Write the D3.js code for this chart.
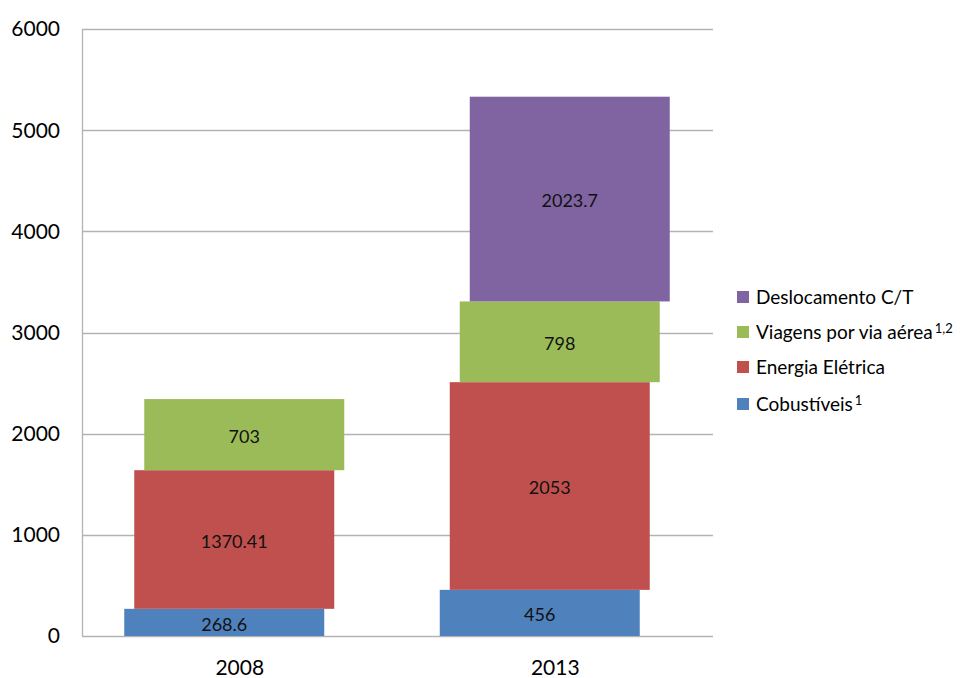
<!DOCTYPE html>
<html><head><meta charset="utf-8">
<script src="https://cdn.jsdelivr.net/npm/d3@7"></script>
<style>body{margin:0;background:#fff}svg{display:block;font-family:Lato,"Open Sans",sans-serif}</style>
</head><body><svg id="c" width="968" height="678"></svg>
<script>
const categories = ["2008", "2013"];
const seriesNames = ["Cobustíveis", "Energia Elétrica", "Viagens por via aérea", "Deslocamento C/T"];
const seriesSup = ["1", "", "1,2", ""];
const seriesColors = ["#4F81BD", "#C0504D", "#9BBB59", "#8064A2"];
const combustiveis = [268.6, 456];
const energia = [1370.41, 2053];
const viagens = [703, 798];
const deslocamento = [null, 2023.7];
const labelTexts = [["268.6","456"],["1370.41","2053"],["703","798"],["","2023.7"]];
const yTicks = [0, 1000, 2000, 3000, 4000, 5000, 6000];

const values = [combustiveis, energia, viagens, deslocamento];
const svg = d3.select("#c");
const pL = 82, pR = 713, pT = 29, pB = 636;
const x = d3.scaleBand().domain(categories).range([pL, pR]);
const off = d3.scalePoint().domain(seriesNames).range([-15.5, 14.5]);
const y = d3.scaleLinear().domain([0, 6000]).range([pB, pT]);
const barW = 200;

// gridlines
svg.append("g").selectAll("line").data(yTicks).join("line")
  .attr("x1", pL).attr("x2", pR)
  .attr("y1", d => Math.round(y(d)) + 0.5).attr("y2", d => Math.round(y(d)) + 0.5)
  .attr("stroke", "#b3b3b3").attr("stroke-width", 1.3);
svg.append("line").attr("x1", pL + 0.5).attr("x2", pL + 0.5).attr("y1", pT).attr("y2", pB)
  .attr("stroke", "#b3b3b3").attr("stroke-width", 1.3);

// y tick labels
svg.append("g").selectAll("text").data(yTicks).join("text")
  .attr("x", 60).attr("y", d => y(d)).attr("dy", "0.35em")
  .attr("text-anchor", "end").attr("font-size", 21).attr("fill", "#000")
  .text(d => d);

// x labels
svg.append("g").selectAll("text").data(categories).join("text")
  .attr("x", d => x(d) + x.bandwidth() / 2).attr("y", 668).attr("dy", "0.35em")
  .attr("text-anchor", "middle").attr("font-size", 21).attr("fill", "#000")
  .text(d => d);

// stacked segments
const segs = [];
categories.forEach((c, ci) => {
  let base = 0;
  seriesNames.forEach((s, si) => {
    const v = values[si][ci];
    if (v == null) return;
    segs.push({c, s, si, y0: base, y1: base + v, label: labelTexts[si][ci]});
    base += v;
  });
});
const g = svg.append("g");
g.selectAll("rect").data(segs).join("rect")
  .attr("x", d => x(d.c) + x.bandwidth() / 2 + off(d.s) - barW / 2)
  .attr("width", barW)
  .attr("y", d => y(d.y1)).attr("height", d => y(d.y0) - y(d.y1))
  .attr("fill", d => seriesColors[d.si]);
g.selectAll("text").data(segs).join("text")
  .attr("x", d => x(d.c) + x.bandwidth() / 2 + off(d.s))
  .attr("y", d => (y(d.y0) + y(d.y1)) / 2 + 2).attr("dy", "0.35em")
  .attr("text-anchor", "middle").attr("font-size", 18).attr("fill", "#111")
  .text(d => d.label);

// legend
const legOrder = [3, 2, 1, 0];
const legY = [297, 332, 367, 404];
const lg = svg.append("g");
legOrder.forEach((si, i) => {
  lg.append("rect").attr("x", 737).attr("y", legY[i] - 6).attr("width", 12).attr("height", 12)
    .attr("fill", seriesColors[si]);
  const t = lg.append("text").attr("x", 756).attr("y", legY[i]).attr("dy", "0.35em")
    .attr("font-size", 19).attr("fill", "#000");
  t.append("tspan").text(seriesNames[si]);
  if (seriesSup[si]) t.append("tspan").attr("dx", 2).attr("dy", "-0.4em").attr("font-size", 13).text(seriesSup[si]);
});
</script></body></html>
